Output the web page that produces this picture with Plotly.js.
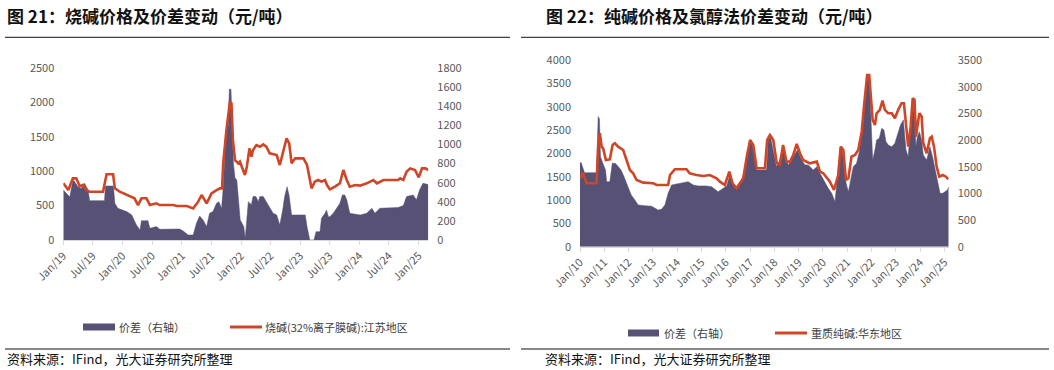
<!DOCTYPE html>
<html>
<head>
<meta charset="utf-8">
<script src="https://cdn.plot.ly/plotly-3.0.1.min.js"></script>
<style>
html,body{margin:0;padding:0;background:#fff;}
#chart{width:1054px;height:370px;}
</style>
</head>
<body>
<div id="chart"></div>
<script>
// ---------- Figure 21: caustic soda ----------
const lPriceDates = ["2019-01-01","2019-01-20","2019-02-01","2019-03-01","2019-03-22","2019-04-12","2019-05-02","2019-05-22","2019-06-12","2019-09-03","2019-09-25","2019-11-04","2019-11-15","2019-12-15","2020-01-27","2020-03-15","2020-04-06","2020-04-27","2020-05-28","2020-06-18","2020-07-28","2020-08-18","2020-11-09","2020-12-01","2021-02-01","2021-03-12","2021-04-12","2021-05-03","2021-06-03","2021-07-03","2021-08-03","2021-08-24","2021-09-06","2021-09-13","2021-10-03","2021-10-24","2021-11-03","2021-11-12","2021-11-25","2021-12-15","2021-12-25","2022-01-15","2022-01-25","2022-02-06","2022-02-22","2022-03-06","2022-03-16","2022-04-06","2022-04-27","2022-05-18","2022-06-06","2022-06-27","2022-08-09","2022-08-28","2022-09-18","2022-10-09","2022-10-25","2022-11-09","2022-12-01","2023-01-21","2023-02-12","2023-03-01","2023-03-12","2023-04-01","2023-04-22","2023-05-12","2023-06-03","2023-06-15","2023-07-03","2023-08-03","2023-09-03","2023-09-24","2023-10-15","2023-11-03","2023-12-06","2024-01-06","2024-02-15","2024-03-27","2024-04-18","2024-05-28","2024-08-27","2024-09-09","2024-09-28","2024-10-18","2024-11-09","2024-12-09","2025-01-01","2025-01-21","2025-02-12","2025-03-01"];
const lPrice = [824,760,726,896,896,780,800,726,702,702,955,955,751,702,654,606,508,606,606,508,533,508,508,494,494,460,557,654,533,678,726,751,751,1114,1598,2000,1986,1453,1162,1114,1138,1017,944,1065,1332,1211,1307,1380,1356,1390,1356,1259,1235,1090,1283,1477,1405,1114,1187,1187,1090,872,751,848,872,848,872,799,736,775,824,1017,872,775,799,790,824,872,824,872,872,896,872,993,1041,1017,911,1041,1041,1017];

const lSpreadDates = ["2019-01-01","2019-02-01","2019-02-10","2019-03-01","2019-03-12","2019-04-01","2019-04-21","2019-05-12","2019-06-03","2019-06-12","2019-09-12","2019-09-18","2019-11-06","2019-11-15","2019-12-03","2020-01-27","2020-02-27","2020-03-27","2020-04-18","2020-04-27","2020-06-06","2020-06-18","2020-07-28","2020-08-18","2020-10-09","2020-12-18","2021-01-09","2021-02-09","2021-03-12","2021-04-01","2021-04-21","2021-05-12","2021-06-03","2021-06-21","2021-07-12","2021-08-03","2021-08-18","2021-09-03","2021-09-12","2021-09-20","2021-10-01","2021-10-15","2021-10-21","2021-10-31","2021-11-06","2021-11-15","2021-11-25","2021-12-06","2021-12-27","2022-01-18","2022-01-27","2022-02-06","2022-02-15","2022-02-27","2022-03-06","2022-03-16","2022-04-03","2022-04-18","2022-04-27","2022-05-18","2022-06-06","2022-06-27","2022-07-18","2022-08-09","2022-08-28","2022-09-15","2022-09-27","2022-10-12","2022-10-24","2022-11-09","2023-02-01","2023-02-12","2023-03-01","2023-03-27","2023-04-09","2023-05-03","2023-05-12","2023-06-03","2023-06-12","2023-06-24","2023-07-03","2023-07-24","2023-08-12","2023-09-03","2023-09-18","2023-10-03","2023-10-15","2023-10-24","2023-11-03","2024-01-06","2024-02-15","2024-03-18","2024-04-06","2024-05-06","2024-08-27","2024-09-28","2024-10-18","2024-11-27","2024-12-18","2025-01-06","2025-01-27","2025-03-01"];
const lSpread = [524,471,450,628,610,558,540,593,524,412,412,565,565,384,332,297,262,157,105,202,202,122,140,112,115,115,95,52,52,175,251,210,140,279,297,384,400,330,524,803,1152,1200,1578,1578,1152,803,650,628,209,140,17,209,401,380,370,454,454,401,454,454,401,332,280,262,157,314,454,558,471,262,262,140,0,0,87,87,227,279,314,244,244,279,332,384,471,471,420,349,279,262,279,332,279,332,340,360,454,471,420,524,593,580];

const lTickVals = ["2019-01-01","2019-07-01","2020-01-01","2020-07-01","2021-01-01","2021-07-01","2022-01-01","2022-07-01","2023-01-01","2023-07-01","2024-01-01","2024-07-01","2025-01-01"];
const lTickText = ["Jan/19","Jul/19","Jan/20","Jul/20","Jan/21","Jul/21","Jan/22","Jul/22","Jan/23","Jul/23","Jan/24","Jul/24","Jan/25"];

// ---------- Figure 22: soda ash ----------
const rPriceDates = ["2010-01-01","2010-02-10","2010-03-15","2010-04-10","2010-09-06","2010-10-01","2010-10-27","2010-11-22","2010-12-16","2011-01-25","2011-03-25","2011-05-06","2011-06-09","2011-07-28","2011-10-12","2011-12-03","2012-01-21","2012-03-10","2012-05-01","2012-08-09","2013-01-06","2013-02-27","2013-08-18","2013-09-15","2013-11-27","2014-05-21","2014-07-09","2014-10-18","2015-01-28","2015-05-06","2015-08-15","2015-10-06","2015-12-18","2016-02-24","2016-04-12","2016-06-12","2016-08-03","2016-09-21","2016-11-12","2017-01-01","2017-02-18","2017-04-09","2017-08-12","2017-09-15","2017-10-27","2017-12-15","2018-02-06","2018-03-24","2018-05-12","2018-07-03","2018-08-24","2018-10-12","2018-12-03","2019-01-21","2019-03-10","2019-06-18","2019-10-01","2019-11-18","2020-01-06","2020-04-15","2020-06-15","2020-08-18","2020-09-24","2020-11-03","2020-12-12","2021-01-18","2021-03-06","2021-04-27","2021-06-15","2021-07-01","2021-08-06","2021-09-09","2021-10-09","2021-10-27","2021-11-27","2021-12-18","2022-01-18","2022-02-21","2022-03-18","2022-05-06","2022-06-15","2022-07-21","2022-09-09","2022-11-01","2022-12-18","2023-02-09","2023-03-28","2023-05-03","2023-06-03","2023-07-06","2023-08-12","2023-09-12","2023-10-09","2023-11-01","2023-11-21","2023-12-21","2024-01-24","2024-02-18","2024-04-09","2024-05-28","2024-06-24","2024-07-28","2024-09-06","2024-10-15","2024-12-06","2025-01-24","2025-03-01"];
const rPrice = [1466,1586,1466,1359,1359,2108,2430,2143,2100,1858,1870,2180,2216,2143,2072,1858,1644,1573,1429,1372,1359,1322,1322,1536,1658,1658,1573,1536,1515,1536,1466,1393,1322,1608,1359,1251,1359,1466,1929,2287,2180,1680,1680,2287,2394,2287,1787,1750,2180,1822,1822,1965,2201,2001,1858,1787,1822,1608,1573,1393,1215,1536,2143,2072,1429,1466,1929,1965,2072,2216,2465,3000,3429,3680,3680,3287,2715,2608,2858,2930,3129,2930,2858,2858,2751,2944,3073,3073,2572,2143,2572,3180,3150,2358,2572,2858,2790,2216,2001,2323,2358,2143,1714,1500,1536,1500,1444];

const rSpreadDates = ["2010-01-01","2010-01-20","2010-02-15","2010-03-10","2010-09-06","2010-10-01","2010-10-20","2010-11-05","2010-12-10","2011-01-20","2011-02-06","2011-03-25","2011-05-01","2011-06-15","2011-08-01","2011-09-10","2011-10-25","2011-12-28","2012-02-10","2012-04-05","2012-05-25","2012-09-01","2012-12-12","2013-03-21","2013-05-10","2013-07-01","2013-08-18","2013-10-09","2013-11-27","2014-03-06","2014-06-15","2014-09-01","2014-11-12","2015-03-18","2015-06-03","2015-09-09","2015-11-24","2016-01-15","2016-03-03","2016-03-27","2016-05-18","2016-07-06","2016-08-27","2016-10-15","2016-12-06","2017-01-15","2017-02-18","2017-04-09","2017-09-06","2017-10-01","2017-11-03","2017-12-12","2018-02-01","2018-03-21","2018-05-03","2018-06-06","2018-07-28","2018-09-18","2018-11-06","2018-12-12","2019-01-12","2019-02-15","2019-04-06","2019-05-25","2019-08-09","2019-10-01","2019-11-18","2020-02-03","2020-03-21","2020-05-12","2020-07-01","2020-08-06","2020-09-15","2020-10-09","2020-11-03","2020-12-15","2021-01-18","2021-02-21","2021-04-01","2021-05-21","2021-07-01","2021-08-06","2021-09-09","2021-10-09","2021-10-27","2021-11-27","2021-12-18","2022-01-18","2022-02-21","2022-03-18","2022-04-27","2022-06-03","2022-07-06","2022-08-06","2022-09-09","2022-11-01","2022-12-18","2023-02-09","2023-03-12","2023-04-24","2023-06-03","2023-07-06","2023-08-12","2023-09-12","2023-10-09","2023-11-01","2023-11-21","2023-12-21","2024-01-24","2024-02-18","2024-04-09","2024-05-28","2024-07-06","2024-08-12","2024-09-18","2024-10-27","2024-12-06","2025-01-09","2025-02-15","2025-03-06"];
const rSpread = [1575,1575,1469,1388,1388,2438,2400,1688,1564,1438,1219,1219,1564,1564,1500,1438,1313,1095,969,876,782,770,760,688,700,782,1001,1157,1170,1190,1219,1157,1140,1140,1125,1031,1095,1140,1344,1250,1095,1157,1250,1438,1813,2001,1813,1438,1438,2001,2063,1813,1500,1625,1813,1719,1532,1625,1719,1813,1719,1625,1532,1532,1438,1500,1376,1188,1095,1001,844,1313,1813,1875,1625,1188,1031,1250,1500,1563,1781,2126,2563,3000,3219,3219,2688,1625,1813,2001,2032,2220,2190,1969,1907,1875,1938,2157,2282,2376,1813,1688,2250,2782,2400,1875,2063,2157,2001,1719,1625,1875,1688,1438,1188,1001,1001,1030,1063,1125];

const rTickVals = ["2010-01-01","2011-01-01","2012-01-01","2013-01-01","2014-01-01","2015-01-01","2016-01-01","2017-01-01","2018-01-01","2019-01-01","2020-01-01","2021-01-01","2022-01-01","2023-01-01","2024-01-01","2025-01-01"];
const rTickText = ["Jan/10","Jan/11","Jan/12","Jan/13","Jan/14","Jan/15","Jan/16","Jan/17","Jan/18","Jan/19","Jan/20","Jan/21","Jan/22","Jan/23","Jan/24","Jan/25"];

// ---------- styling ----------
const W = 1054, H = 370;
const FONT = "Noto Sans CJK SC, Noto Sans, sans-serif";
const BLUE = "#565175";
const RED = "#cf4526";
const TICKC = "#595959";
const px = v => v / W;
const py = v => 1 - v / H;

const traces = [
  {x: lSpreadDates, y: lSpread, type: "scatter", mode: "lines", fill: "tozeroy",
   fillcolor: BLUE, line: {color: BLUE, width: 0.5}, xaxis: "x", yaxis: "y", hoverinfo: "skip"},
  {x: lPriceDates, y: lPrice, type: "scatter", mode: "lines",
   line: {color: RED, width: 2.6}, xaxis: "x", yaxis: "y2", hoverinfo: "skip"},
  {x: rSpreadDates, y: rSpread, type: "scatter", mode: "lines", fill: "tozeroy",
   fillcolor: BLUE, line: {color: BLUE, width: 0.5}, xaxis: "x2", yaxis: "y3", hoverinfo: "skip"},
  {x: rPriceDates, y: rPrice, type: "scatter", mode: "lines",
   line: {color: RED, width: 2.6}, xaxis: "x2", yaxis: "y4", hoverinfo: "skip"}
];

const xBase = {type: "date", showgrid: false, zeroline: false, showline: true,
  linecolor: "#d9d9d9", linewidth: 1, ticks: "outside", ticklen: 4, tickcolor: "#d9d9d9",
  tickangle: -45, tickfont: {family: FONT, size: 11, color: TICKC}, fixedrange: true};
const yBase = {showgrid: false, zeroline: false, showline: false, ticks: "",
  tickfont: {family: FONT, size: 11, color: TICKC}, fixedrange: true, ticklabelstandoff: 8};

const lyTop = 68, lyBot = 240, ryTop = 60, ryBot = 246.7;

const layout = {
  width: W, height: H, margin: {l: 0, r: 0, t: 0, b: 0},
  paper_bgcolor: "#fff", plot_bgcolor: "rgba(0,0,0,0)", showlegend: false,
  xaxis: Object.assign({}, xBase, {domain: [px(63.3), px(428.3)], anchor: "y",
    range: ["2019-01-01", "2025-03-01"], tickmode: "array", tickvals: lTickVals, ticktext: lTickText}),
  yaxis: Object.assign({}, yBase, {domain: [py(lyBot), py(lyTop)], anchor: "x", side: "right",
    range: [0, 1800], tickvals: [0,200,400,600,800,1000,1200,1400,1600,1800]}),
  yaxis2: Object.assign({}, yBase, {overlaying: "y", anchor: "x", side: "left",
    range: [0, 2500], tickvals: [0,500,1000,1500,2000,2500]}),
  xaxis2: Object.assign({}, xBase, {domain: [px(580), px(948.7)], anchor: "y3",
    range: ["2010-01-01", "2025-03-06"], tickmode: "array", tickvals: rTickVals, ticktext: rTickText}),
  yaxis3: Object.assign({}, yBase, {domain: [py(ryBot), py(ryTop)], anchor: "x2", side: "right",
    range: [0, 3500], tickvals: [0,500,1000,1500,2000,2500,3000,3500]}),
  yaxis4: Object.assign({}, yBase, {overlaying: "y3", anchor: "x2", side: "left",
    range: [0, 4000], tickvals: [0,500,1000,1500,2000,2500,3000,3500,4000]}),
  shapes: [
    // header rules
    {type: "line", xref: "paper", yref: "paper", x0: px(5), x1: px(510), y0: py(37.3), y1: py(37.3), line: {color: "#111", width: 1}},
    {type: "line", xref: "paper", yref: "paper", x0: px(521), x1: px(1049), y0: py(37.3), y1: py(37.3), line: {color: "#111", width: 1}},
    // footer rules
    {type: "line", xref: "paper", yref: "paper", x0: px(5), x1: px(510), y0: py(349), y1: py(349), line: {color: "#111", width: 1}},
    {type: "line", xref: "paper", yref: "paper", x0: px(521), x1: px(1049), y0: py(349), y1: py(349), line: {color: "#111", width: 1}},
    // legend swatches, figure 21
    {type: "rect", xref: "paper", yref: "paper", x0: px(83), x1: px(115), y0: py(330.5), y1: py(323.5), fillcolor: BLUE, line: {width: 0}},
    {type: "line", xref: "paper", yref: "paper", x0: px(230), x1: px(262), y0: py(327), y1: py(327), line: {color: RED, width: 3}},
    // legend swatches, figure 22
    {type: "rect", xref: "paper", yref: "paper", x0: px(628), x1: px(659), y0: py(336.5), y1: py(329.5), fillcolor: BLUE, line: {width: 0}},
    {type: "line", xref: "paper", yref: "paper", x0: px(775), x1: px(807), y0: py(333), y1: py(333), line: {color: RED, width: 3}}
  ],
  annotations: [
    {xref: "paper", yref: "paper", x: px(5), y: py(15.5), xanchor: "left", yanchor: "middle", showarrow: false,
     text: "<b>图 21：烧碱价格及价差变动（元/吨）</b>", font: {family: FONT, size: 17, color: "#111"}},
    {xref: "paper", yref: "paper", x: px(544), y: py(15.5), xanchor: "left", yanchor: "middle", showarrow: false,
     text: "<b>图 22：纯碱价格及氯醇法价差变动（元/吨）</b>", font: {family: FONT, size: 17, color: "#111"}},
    {xref: "paper", yref: "paper", x: px(117), y: py(327), xanchor: "left", yanchor: "middle", showarrow: false,
     text: "价差（右轴）", font: {family: FONT, size: 11, color: "#404040"}},
    {xref: "paper", yref: "paper", x: px(263), y: py(327), xanchor: "left", yanchor: "middle", showarrow: false,
     text: "烧碱(32%离子膜碱):江苏地区", font: {family: FONT, size: 11, color: "#404040"}},
    {xref: "paper", yref: "paper", x: px(662), y: py(333), xanchor: "left", yanchor: "middle", showarrow: false,
     text: "价差（右轴）", font: {family: FONT, size: 11, color: "#404040"}},
    {xref: "paper", yref: "paper", x: px(809), y: py(333), xanchor: "left", yanchor: "middle", showarrow: false,
     text: "重质纯碱:华东地区", font: {family: FONT, size: 11, color: "#404040"}},
    {xref: "paper", yref: "paper", x: px(5), y: py(358), xanchor: "left", yanchor: "middle", showarrow: false,
     text: "资料来源：IFind，光大证券研究所整理", font: {family: FONT, size: 13, color: "#111"}},
    {xref: "paper", yref: "paper", x: px(543), y: py(358), xanchor: "left", yanchor: "middle", showarrow: false,
     text: "资料来源：IFind，光大证券研究所整理", font: {family: FONT, size: 13, color: "#111"}}
  ]
};

Plotly.newPlot("chart", traces, layout, {staticPlot: true, displayModeBar: false});
</script>
</body>
</html>
